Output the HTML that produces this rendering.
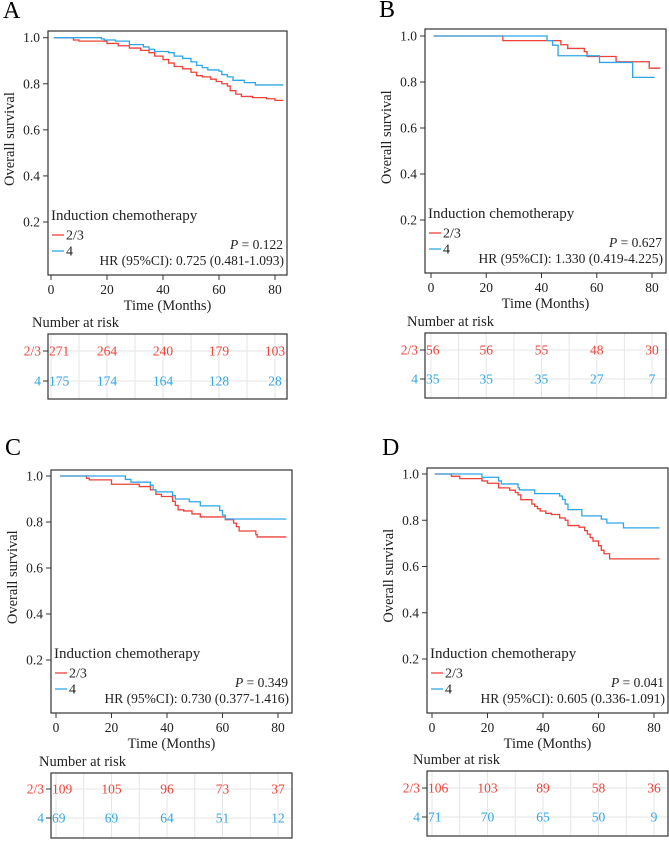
<!DOCTYPE html>
<html><head><meta charset="utf-8">
<style>
html,body{margin:0;padding:0;background:#fff;}
svg, svg text{font-family:"Liberation Serif","Times New Roman",serif;}
</style></head>
<body>
<svg id="fig" width="669" height="839" viewBox="0 0 669 839" xmlns="http://www.w3.org/2000/svg" font-family="Liberation Serif, serif"></svg>
<script>
// ---- data ----
const xTicks = [0, 20, 40, 60, 80];
const yTicks = [0.2, 0.4, 0.6, 0.8, 1.0];
const groupLabels = ["2/3", "4"];

const aRedT = [1, 8, 10, 20, 24, 28, 32, 35, 37, 40, 42, 44, 47, 50, 52, 54, 57, 59, 61, 63, 64, 66, 68, 72, 77, 80, 83];
const aRedS = [1, 0.99, 0.985, 0.975, 0.965, 0.955, 0.945, 0.935, 0.92, 0.905, 0.89, 0.875, 0.865, 0.85, 0.835, 0.83, 0.82, 0.81, 0.80, 0.79, 0.77, 0.755, 0.745, 0.74, 0.735, 0.728, 0.728];
const aBlueT = [1, 18, 19, 23, 28, 33, 35, 37, 42, 44, 47, 50, 52, 54, 56, 60, 61, 63, 65, 69, 73, 83];
const aBlueS = [1, 0.995, 0.99, 0.985, 0.97, 0.96, 0.95, 0.94, 0.935, 0.92, 0.91, 0.895, 0.88, 0.87, 0.86, 0.855, 0.84, 0.83, 0.815, 0.805, 0.795, 0.795];

const bRedT = [1, 26, 47, 49.5, 55.5, 56.5, 67, 79, 83];
const bRedS = [1, 0.98, 0.962, 0.946, 0.932, 0.911, 0.888, 0.86, 0.86];
const bBlueT = [1, 42, 44, 46, 61, 73, 81];
const bBlueS = [1, 0.98, 0.96, 0.914, 0.885, 0.82, 0.82];

const cRedT = [1.5, 11, 12, 20, 30, 34, 36, 38, 42, 43, 44, 46, 49, 52, 61, 64, 65, 66, 72, 72.5, 83];
const cRedS = [1, 0.99, 0.983, 0.964, 0.954, 0.94, 0.92, 0.911, 0.89, 0.872, 0.853, 0.848, 0.835, 0.822, 0.81, 0.795, 0.78, 0.761, 0.745, 0.735, 0.735];
const cBlueT = [1.5, 25, 27, 34, 35, 36, 42, 43, 48, 52, 59, 60, 61, 83];
const cBlueS = [1, 0.985, 0.973, 0.96, 0.94, 0.931, 0.915, 0.9, 0.888, 0.87, 0.85, 0.83, 0.813, 0.813];

const dRedT = [1, 7, 10, 18, 20, 24, 28, 30, 31, 32, 36, 37, 38, 39, 41, 43, 46, 48, 49, 53, 55, 56, 57, 58, 60, 61, 62, 64, 82];
const dRedS = [1, 0.99, 0.98, 0.97, 0.96, 0.94, 0.93, 0.92, 0.91, 0.889, 0.87, 0.86, 0.85, 0.84, 0.83, 0.825, 0.81, 0.8, 0.777, 0.77, 0.755, 0.74, 0.725, 0.71, 0.69, 0.67, 0.655, 0.633, 0.633];
const dBlueT = [1, 18, 24, 25, 31, 31.5, 37, 46, 47, 48, 49, 54, 61, 63, 69, 82];
const dBlueS = [1, 0.986, 0.97, 0.957, 0.94, 0.931, 0.915, 0.905, 0.89, 0.87, 0.846, 0.819, 0.805, 0.788, 0.767, 0.767];

const aRiskRed = [271, 264, 240, 179, 103];
const aRiskBlue = [175, 174, 164, 128, 28];
const bRiskRed = [56, 56, 55, 48, 30];
const bRiskBlue = [35, 35, 35, 27, 7];
const cRiskRed = [109, 105, 96, 73, 37];
const cRiskBlue = [69, 69, 64, 51, 12];
const dRiskRed = [106, 103, 89, 58, 36];
const dRiskBlue = [71, 70, 65, 50, 9];

const pTexts = ["0.122", "0.627", "0.349", "0.041"];
const hrTexts = ["0.725 (0.481-1.093)", "1.330 (0.419-4.225)", "0.730 (0.377-1.416)", "0.605 (0.336-1.091)"];

const RED = "#ee4238", BLUE = "#2fa6e6";
const NS = "http://www.w3.org/2000/svg";
const svg = document.getElementById("fig");

function mk(tag, attrs, parent, text) {
  const e = document.createElementNS(NS, tag);
  for (const k in attrs) e.setAttribute(k, attrs[k]);
  if (tag === "text") e.setAttribute("font-family", "Liberation Serif, serif");
  if (text !== undefined) e.textContent = text;
  (parent || svg).appendChild(e);
  return e;
}

const panels = [
  {id:"a", letter:"A", lx:3, ly:18, box:{l:48,r:287,t:31,b:275}, x0:51, x80:275, y1:37.7, y02:222,
   tab:{t:334,b:399,r1:351,r2:381}, red:[aRedT,aRedS], blue:[aBlueT,aBlueS], risk:[aRiskRed,aRiskBlue], k:0},
  {id:"b", letter:"B", lx:379, ly:17, box:{l:425,r:666,t:29,b:273}, x0:431, x80:652, y1:36, y02:220,
   tab:{t:333,b:398,r1:350,r2:379}, red:[bRedT,bRedS], blue:[bBlueT,bBlueS], risk:[bRiskRed,bRiskBlue], k:1},
  {id:"c", letter:"C", lx:5, ly:455, box:{l:51,r:292,t:470,b:713}, x0:56, x80:278, y1:476, y02:660,
   tab:{t:773,b:838,r1:789,r2:818}, red:[cRedT,cRedS], blue:[cBlueT,cBlueS], risk:[cRiskRed,cRiskBlue], k:2},
  {id:"d", letter:"D", lx:382, ly:455, box:{l:427,r:668,t:468,b:713}, x0:432, x80:654, y1:474, y02:659,
   tab:{t:771,b:836,r1:788,r2:817}, red:[dRedT,dRedS], blue:[dBlueT,dBlueS], risk:[dRiskRed,dRiskBlue], k:3}
];

panels.forEach(p => {
  const g = mk("g", {});
  
  
  const xs = t => p.x0 + (t / 80) * (p.x80 - p.x0);
  const ys = s => p.y1 + (1 - s) / 0.8 * (p.y02 - p.y1);
  const B = p.box;

  const lt = mk("text", {x:p.lx, y:p.ly, "font-size":24}, g, p.letter);
  
  

  const frame = mk("rect", {x:B.l, y:B.t, width:B.r-B.l, height:B.b-B.t, fill:"none", stroke:"#333", "stroke-width":1.2}, g);
  
  

  yTicks.forEach(v => {
    const y = ys(v);
    mk("line", {x1:B.l-5, x2:B.l, y1:y, y2:y, stroke:"#333"}, g);
    const t = mk("text", {x:B.l-8, y:y+4.5, "font-size":13.5, "text-anchor":"end", fill:"#222"}, g, v.toFixed(1));
    
    
  });
  xTicks.forEach(v => {
    const x = xs(v);
    mk("line", {x1:x, x2:x, y1:B.b, y2:B.b+5, stroke:"#333"}, g);
    const t = mk("text", {x:x, y:B.b+19, "font-size":13.5, "text-anchor":"middle", fill:"#222"}, g, String(v));
    
    
  });
  const yl = ys(0.56);
  const yt = mk("text", {x:0, y:0, "font-size":14.5, "text-anchor":"middle", fill:"#222",
    transform:`translate(${B.l-34},${yl}) rotate(-90)`}, g, "Overall survival");
  
  
  const xt = mk("text", {x:(B.l+B.r)/2, y:B.b+35, "font-size":14.5, "text-anchor":"middle", fill:"#222"}, g, "Time (Months)");
  
  

  [[p.red, RED, "red"], [p.blue, BLUE, "blue"]].forEach(([d, col, nm]) => {
    const T = d[0], S = d[1];
    let path = `M${xs(T[0])},${ys(S[0])}`;
    for (let i = 1; i < T.length; i++) {
      path += ` H${xs(T[i])} V${ys(S[i])}`;
    }
    const pe = mk("path", {d:path, fill:"none", stroke:col, "stroke-width":1.3}, g);
    
    
  });

  const lg = mk("g", {}, g);
  
  
  const ly0 = B.b - 55;
  mk("text", {x:B.l+3, y:ly0, "font-size":15, fill:"#222"}, lg, "Induction chemotherapy");
  [[RED, groupLabels[0], 15], [BLUE, groupLabels[1], 31]].forEach(([c, lab, dy]) => {
    const e = mk("g", {}, lg);
    
    
    mk("line", {x1:B.l+4, x2:B.l+16, y1:ly0+dy, y2:ly0+dy, stroke:c, "stroke-width":1.3}, e);
    mk("text", {x:B.l+18, y:ly0+dy+4.5, "font-size":14, fill:"#222"}, e, lab);
  });
  const pt = mk("text", {x:B.r-4, y:B.b-26, "font-size":13.5, "text-anchor":"end", fill:"#222"}, g);
  mk("tspan", {"font-style":"italic"}, pt, "P");
  mk("tspan", {}, pt, " = " + pTexts[p.k]);
  
  
  const hr = mk("text", {x:B.r-3, y:B.b-10, "font-size":13.5, "text-anchor":"end", fill:"#222"}, g, "HR (95%CI): " + hrTexts[p.k]);
  
  

  const T = p.tab;
  const nr = mk("text", {x:B.l-16+ (p.k%2? -2:0)+ (p.k>=2?4:0), y:T.t-7, "font-size":14.5, fill:"#222"}, g, "Number at risk");
  
  
  const tg = mk("g", {}, g);
  
  
  for (let v = 0; v <= 80; v += 10) {
    const x = xs(v);
    mk("line", {x1:x, x2:x, y1:T.t, y2:T.b, stroke:"#e6e6e6", "stroke-width":1}, tg);
  }
  [T.r1, T.r2].forEach(y => mk("line", {x1:B.l, x2:B.r, y1:y, y2:y, stroke:"#e6e6e6"}, tg));
  mk("rect", {x:B.l, y:T.t, width:B.r-B.l, height:T.b-T.t, fill:"none", stroke:"#333", "stroke-width":1.2}, tg);
  [[p.risk[0], RED, T.r1, groupLabels[0]], [p.risk[1], BLUE, T.r2, groupLabels[1]]].forEach(([vals, c, y, lab]) => {
    mk("line", {x1:B.l-5, x2:B.l, y1:y, y2:y, stroke:"#333"}, tg);
    const rl = mk("text", {x:B.l-7, y:y+4.5, "font-size":13.5, "text-anchor":"end", fill:c}, tg, lab);
    
    
    vals.forEach((n, i) => {
      const x = xs(xTicks[i]);
      const first = i === 0;
      const last = i === vals.length - 1;
      const t = mk("text", {x:first ? B.l+1 : (last ? Math.min(x, B.r-1) : x), y:y+4.5, "font-size":13.5,
        "text-anchor":first ? "start" : (last && x > B.r-10 ? "end" : "middle"), fill:c}, tg, String(n));
      
      
    });
  });
});
</script>
</body></html>
